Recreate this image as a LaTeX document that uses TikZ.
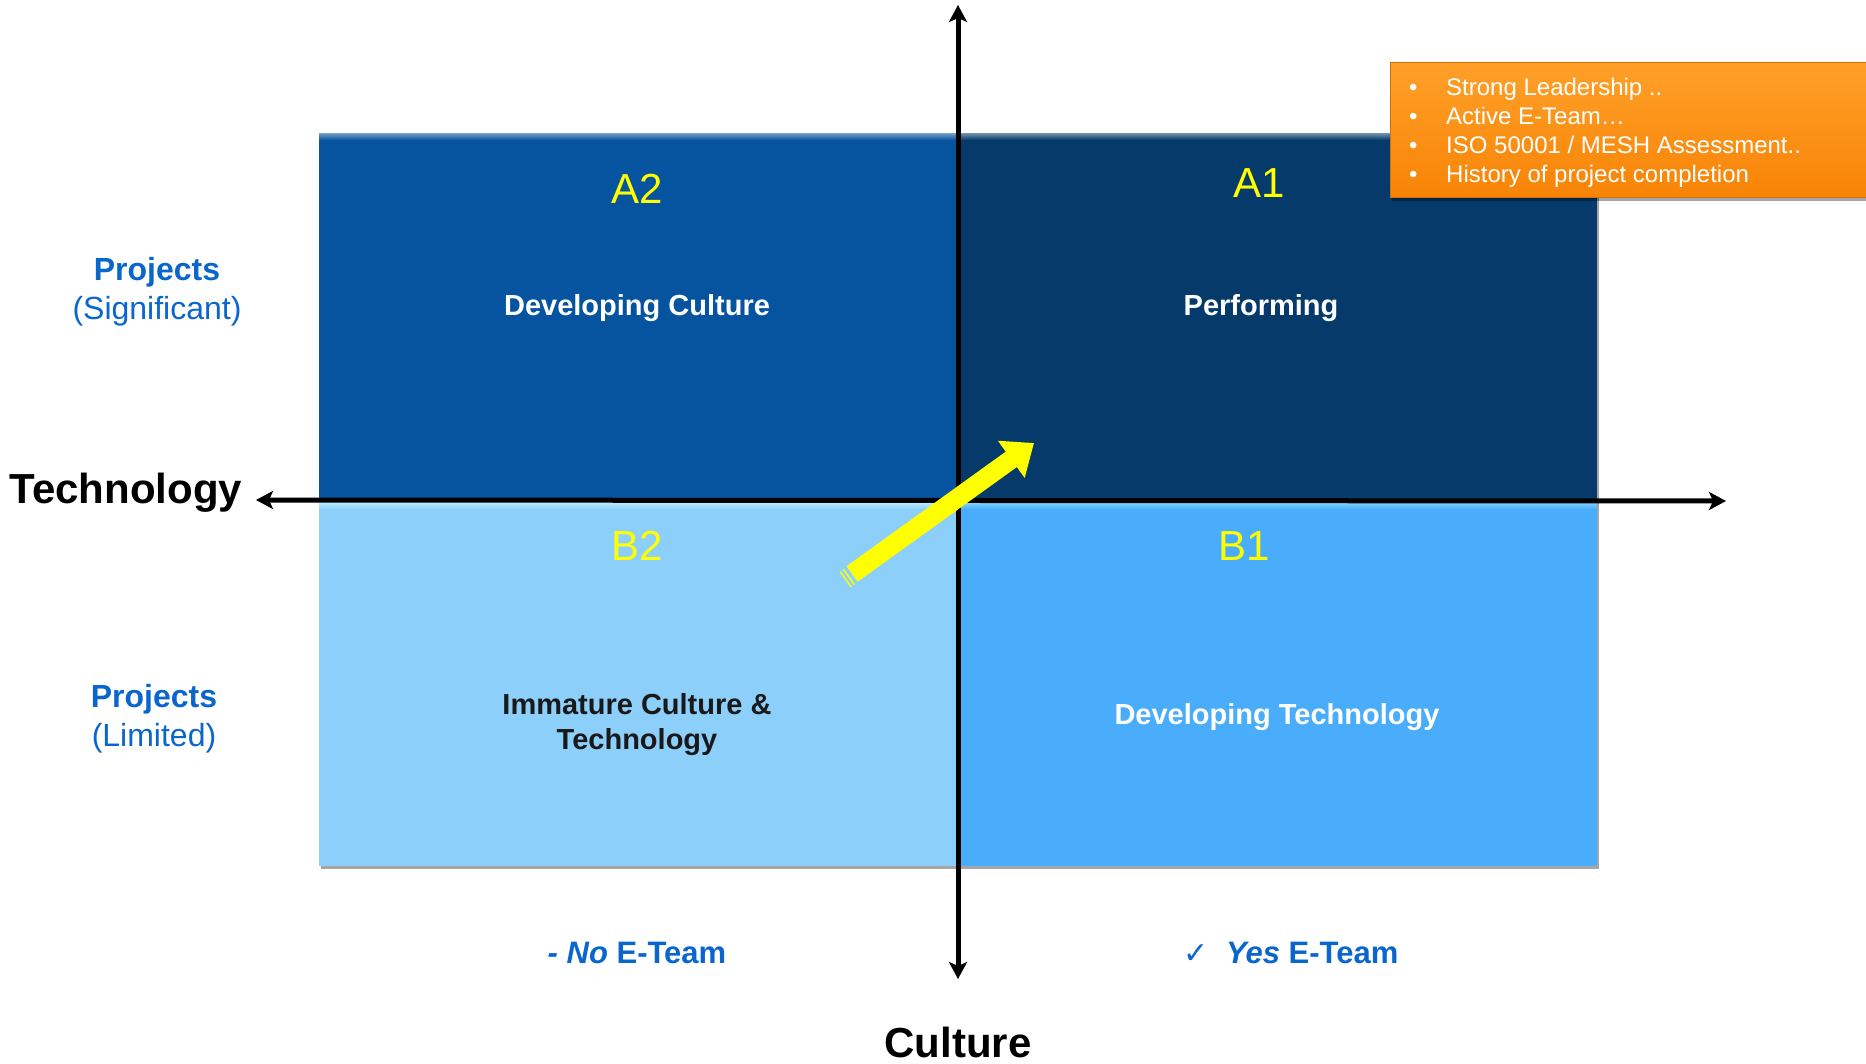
\documentclass[tikz,border=0pt]{standalone}
\usepackage{fontspec}
\setmainfont{Liberation Sans}
\newfontfamily\symfont{DejaVu Sans}
\usetikzlibrary{arrows.meta,shadows}
\definecolor{qAtwo}{RGB}{6,84,160}
\definecolor{qAone}{RGB}{5,58,107}
\definecolor{qBtwo}{RGB}{141,207,251}
\definecolor{qBone}{RGB}{74,173,251}
\definecolor{projblue}{RGB}{10,102,204}
\definecolor{orangetop}{RGB}{255,160,40}
\definecolor{orangebot}{RGB}{248,132,6}
\definecolor{orangeedge}{RGB}{215,110,10}
\definecolor{ylw}{RGB}{255,255,0}
\newcommand\fsz[2]{\fontsize{#1}{#2}\selectfont}
\begin{document}
\begin{tikzpicture}[x=1pt,y=-1pt,
  quad/.style={rectangle, draw=none, inner sep=0pt, outer sep=0pt,
    minimum width=639pt, anchor=north west,
    drop shadow={shadow xshift=1.5pt, shadow yshift=-3pt, opacity=0.35, fill=black}},
  qlabel/.style={text=ylw, font=\fsz{42}{50}, anchor=base, inner sep=0pt},
  qtitle/.style={font=\fsz{29}{35}\bfseries, anchor=base, inner sep=0pt},
  projb/.style={text=projblue, font=\fsz{32}{39}\bfseries, anchor=base, inner sep=0pt},
  projr/.style={text=projblue, font=\fsz{32}{39}, anchor=base, inner sep=0pt},
  axislbl/.style={font=\fsz{42}{50}\bfseries, anchor=base, inner sep=0pt},
  eteam/.style={text=projblue, font=\fsz{31}{37}\bfseries, anchor=base, inner sep=0pt},
  bul/.style={text=white, font=\fsz{24}{29}, anchor=base west, inner sep=0pt},
  axisline/.style={line width=5pt,
    {Stealth[length=17pt,width=18pt,inset=4pt]}-{Stealth[length=17pt,width=18pt,inset=4pt]}},
  yarrow/.style={draw=ylw, line width=19pt, -{Triangle[length=28pt,width=44pt]}},
  stripe/.style={draw=ylw, line width=1.4pt}
]
\useasboundingbox (0,0) rectangle (1866,1063);

% quadrants
\node[quad, fill=qAtwo, minimum height=367pt] (A2) at (319,133) {};
\node[quad, fill=qAone, minimum height=367pt] (A1) at (958,133) {};
\node[quad, fill=qBtwo, minimum height=366pt] (B2) at (319,500) {};
\node[quad, fill=qBone, minimum height=366pt] (B1) at (958,500) {};

% top highlights
\shade[top color=qAtwo!55!white, bottom color=qAtwo] (A2.north west) rectangle ([yshift=-7pt]A2.north east);
\shade[top color=qAone!55!white, bottom color=qAone] (A1.north west) rectangle ([yshift=-7pt]A1.north east);
\shade[top color={rgb,255:red,200;green,250;blue,255}, bottom color=qBtwo] (B2.north west) rectangle ([yshift=-9pt]B2.north east);
\shade[top color={rgb,255:red,150;green,225;blue,255}, bottom color=qBone] (B1.north west) rectangle ([yshift=-9pt]B1.north east);

% quadrant texts
\node[qlabel] (tA2) at (637,203) {A2};
\node[qlabel] (tA1) at (1259,197) {A1};
\node[qlabel] (tB2) at (637,560) {B2};
\node[qlabel] (tB1) at (1244,560) {B1};
\node[qtitle, text=white] (dc) at (637,315) {Developing Culture};
\node[qtitle, text=white] (pf) at (1261,315) {Performing};
\node[qtitle, text=black!90] (im1) at (637,714) {Immature Culture \&};
\node[qtitle, text=black!90] (im2) at (637,749) {Technology};
\node[qtitle, text=white] (dt) at (1277,724) {Developing Technology};

% axes
\coordinate (hl) at (256,500);
\coordinate (hr) at (1726,501);
\coordinate (vt) at (958,5);
\coordinate (vb) at (958,979);
\draw[axisline] (hl) -- (hr);
\draw[axisline] (vt) -- (vb);

% side labels
\node[projb] (p1) at (157,280) {Projects};
\node[projr] (p1s) at (157,319) {(Significant)};
\node[projb] (p2) at (154,707) {Projects};
\node[projr] (p2s) at (154,746) {(Limited)};
\node[axislbl] (tech) at (126,503) {Technology};
\node[axislbl] (cult) at (958,1057) {Culture};
\node[eteam] (no) at (637,963) {\textit{- No} E-Team};
\node[eteam] (yes) at (1291,963) {{\symfont\mdseries\fsz{30}{34}✓}\ \ \textit{Yes} E-Team};

% yellow arrow
\coordinate (ytail) at (852,574);
\coordinate (ytip) at (1034,443);
\draw[yarrow] (ytail) -- (ytip);
\coordinate (s1a) at (843.4,569.3);
\coordinate (s1b) at (854.4,584.7);
\coordinate (s2a) at (840.2,571.6);
\coordinate (s2b) at (851.2,587.0);
\draw[stripe] (s1a) -- (s1b);
\draw[stripe] (s2a) -- (s2b);

% orange box
\node[rectangle, anchor=north west, minimum width=490pt, minimum height=135pt,
  inner sep=0pt, top color=orangetop, bottom color=orangebot, draw=orangeedge, line width=1.2pt,
  drop shadow={shadow xshift=1pt, shadow yshift=-3pt, opacity=0.35, fill=black}] (obox) at (1390,62) {};
\node[bul] (l1) at (1409,95) {\makebox[37pt][l]{\textbullet}Strong Leadership ..};
\node[bul] (l2) at (1409,124) {\makebox[37pt][l]{\textbullet}Active E-Team…};
\node[bul] (l3) at (1409,153) {\makebox[37pt][l]{\textbullet}ISO 50001 / MESH Assessment..};
\node[bul] (l4) at (1409,182) {\makebox[37pt][l]{\textbullet}History of project completion};
\end{tikzpicture}
\end{document}
